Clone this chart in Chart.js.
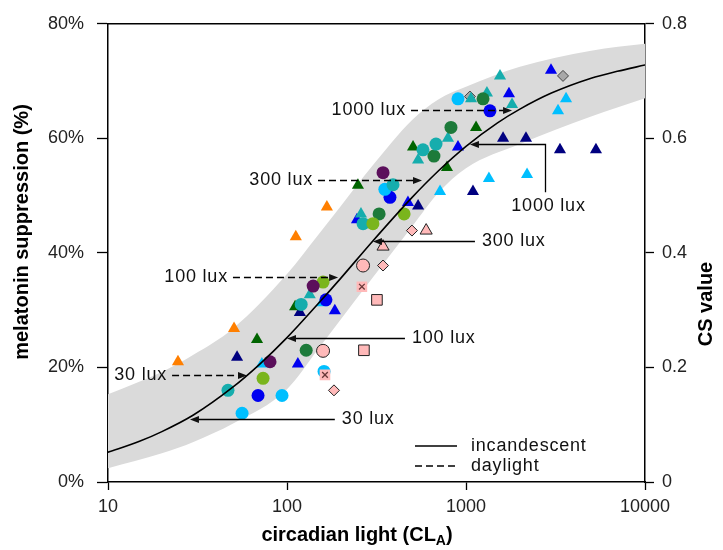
<!DOCTYPE html>
<html>
<head>
<meta charset="utf-8">
<script src="https://cdn.jsdelivr.net/npm/chart.js@4/dist/chart.umd.min.js"></script>
<style>
  html, body { margin: 0; padding: 0; background: #ffffff; }
  #wrap { width: 723px; height: 550px; }
</style>
</head>
<body>
<div id="wrap"><canvas id="c" width="723" height="550"></canvas></div>
<script>
// ---- axes ----
const xTicks = [10, 100, 1000, 10000];
const pctTicks = [0, 20, 40, 60, 80];
const csTicks = [0, 0.2, 0.4, 0.6, 0.8];

// ---- response curve (CL_A vs % suppression) ----
const curveCL  = [10, 15, 20, 30, 50, 70, 100, 150, 200, 300, 500, 700, 1000, 1500, 2000, 3000, 5000, 7000, 10000];
const curvePct = [5.2, 7.1, 8.8, 11.7, 16.6, 20.5, 25.2, 31.2, 35.6, 42.0, 49.7, 54.3, 58.6, 62.7, 65.1, 67.9, 70.5, 71.7, 72.8];

// ---- shaded band around the curve ----
const bandCL    = [10, 20, 30, 50, 100, 150, 200, 300, 500, 700, 1000, 2000, 5000, 10000];
const bandUpper = [15.3, 19.2, 22.2, 26.8, 36.3, 43.2, 48.2, 55.2, 63.2, 66.8, 69.0, 72.5, 75.3, 76.5];
const bandLower = [2.4, 5.0, 7.0, 10.2, 16.2, 23.3, 28.4, 35.6, 44.6, 50.5, 54.8, 59.0, 63.8, 67.0];

// ---- measurements: [CL_A, % suppression] ----
const orangeTriangles    = [[24.6, 21.0], [50.6, 26.8], [112, 42.8], [167, 48.0]];
const darkGreenTriangles = [[68, 24.9], [111, 30.6], [249, 51.8], [506, 58.5], [783, 54.9], [1138, 61.9]];
const navyTriangles      = [[52.6, 21.8], [118, 29.6], [540, 48.2], [1094, 50.7], [1611, 60.0], [2163, 60.0], [3350, 58.0], [5321, 58.0]];
const blueTriangles      = [[115, 20.6], [185, 29.9], [246, 45.8], [474, 48.8], [902, 58.5], [1738, 67.8], [2985, 71.9]];
const lightBlueTriangles = [[72.4, 20.6], [157, 31.3], [716, 50.7], [1343, 53.0], [2193, 53.7], [3266, 64.8], [3622, 66.9]];
const tealTriangles      = [[134, 32.7], [259, 46.8], [540, 56.2], [793, 60.0], [1067, 66.9], [1309, 67.9], [1808, 65.9], [1549, 70.9]];
const blueCircles        = [[68.9, 15.1], [165, 31.8], [376, 49.7], [1361, 64.8]];
const lightBlueCircles   = [[56.1, 12.0], [93.8, 15.1], [161, 19.3], [352, 51.1], [902, 66.9]];
const tealCircles        = [[46.8, 16.0], [120, 31.0], [266, 45.1], [391, 51.9], [575, 58.0], [680, 59.0]];
const darkGreenCircles   = [[128, 23.0], [327, 46.8], [662, 56.9], [824, 61.9], [1245, 66.9]];
const purpleCircles      = [[80.4, 21.0], [140, 34.2], [344, 54.0]];
const limeCircles        = [[73.5, 18.1], [159, 34.9], [302, 45.1], [451, 46.8]];
const pinkCircles        = [[159, 22.9], [266, 37.8]];
const pinkSquares        = [[318, 31.8], [269, 23.0]];
const pinkDiamonds       = [[344, 37.8], [183, 16.0], [499, 43.9]];
const pinkTriangles      = [[344, 41.1], [599, 43.9]];
const pinkCrossSquares   = [[262, 34.1], [163, 18.7]];
const grayDiamonds       = [[3483, 70.9], [1052, 67.3]];

// ---- lux reference arrows ----
// daylight (dashed, pointing right): label, line start CL, tip CL, level %
const daylightArrows = [
  { label: '30 lux',   from: 22.8, to: 59.8,  y: 18.7 },
  { label: '100 lux',  from: 49.9, to: 193,   y: 35.8 },
  { label: '300 lux',  from: 149,  to: 568,   y: 52.8 },
  { label: '1000 lux', from: 493,  to: 1808,  y: 65.0 }
];
// incandescent (solid, pointing left): label, tip CL, line end CL, level %
const incandescentArrows = [
  { label: '30 lux',  tip: 28.7, to: 185,  y: 11.0 },
  { label: '100 lux', tip: 100,  to: 456,  y: 25.1 },
  { label: '300 lux', tip: 302,  to: 1122, y: 42.0 }
];
// the 1000 lux incandescent arrow bends down to its label
const incandescent1000 = { label: '1000 lux', tip: 1052, corner: 2761, y: 59.0, yLabel: 50.6 };

const pts = arr => arr.map(p => ({ x: p[0], y: p[1] }));
const line = (xs, ys) => xs.map((x, i) => ({ x, y: ys[i] }));

const PINK = '#ffb9b9';
function marker(data, style, color, radius, order, extra) {
  return Object.assign({
    data: pts(data), pointStyle: style, pointRadius: radius, pointHoverRadius: radius,
    backgroundColor: color, borderColor: color, borderWidth: 0, showLine: false, order
  }, extra || {});
}
const outlined = { borderColor: '#222', borderWidth: 1 };

const datasets = [
  { data: line(curveCL, curvePct), showLine: true, borderColor: '#000', borderWidth: 1.6,
    pointRadius: 0, tension: 0.4, cubicInterpolationMode: 'monotone', fill: false, order: 0 },
  marker(pinkCrossSquares, 'rect', PINK, 7.5, 1, { borderColor: PINK, borderWidth: 0 }),
  marker(pinkCrossSquares, 'crossRot', '#6a3838', 4, 0.5, { borderColor: '#6a3838', borderWidth: 1.3 }),
  marker(purpleCircles, 'circle', '#5b0f5b', 6.5, 2),
  marker(limeCircles, 'circle', '#7ab51d', 6.5, 3),
  marker(tealCircles, 'circle', '#16adad', 6.5, 4),
  marker(darkGreenCircles, 'circle', '#1d7a3a', 6.5, 5),
  marker(lightBlueCircles, 'circle', '#00bfff', 6.5, 6),
  marker(blueCircles, 'circle', '#0000f0', 6.5, 7),
  marker(tealTriangles, 'triangle', '#16adad', 7, 8),
  marker(lightBlueTriangles, 'triangle', '#00bfff', 7, 9),
  marker(blueTriangles, 'triangle', '#0000f0', 7, 10),
  marker(darkGreenTriangles, 'triangle', '#006400', 7, 11),
  marker(navyTriangles, 'triangle', '#000080', 7, 12),
  marker(orangeTriangles, 'triangle', '#ff7f00', 7, 13),
  marker(pinkCircles, 'circle', PINK, 6.5, 14, outlined),
  marker(pinkSquares, 'rect', PINK, 7.5, 15, outlined),
  marker(pinkDiamonds, 'rectRot', PINK, 5.5, 16, outlined),
  marker(pinkTriangles, 'triangle', PINK, 7, 17, outlined),
  marker(grayDiamonds, 'rectRot', '#a8a8a8', 5.5, 18, { borderColor: '#444', borderWidth: 1 }),
  { data: line(bandCL, bandUpper), showLine: true, borderWidth: 0, borderColor: 'rgba(0,0,0,0)',
    pointRadius: 0, tension: 0.4, cubicInterpolationMode: 'monotone', fill: false, order: 50 },
  { data: line(bandCL, bandLower), showLine: true, borderWidth: 0, borderColor: 'rgba(0,0,0,0)',
    pointRadius: 0, tension: 0.4, cubicInterpolationMode: 'monotone', fill: '-1',
    backgroundColor: '#dadada', order: 51 }
];

const FONT = 'Liberation Sans, Arial, sans-serif';
const tickFont = { family: FONT, size: 18 };

function arrowHead(ctx, x, y, dir) {
  ctx.beginPath();
  ctx.moveTo(x, y);
  ctx.lineTo(x - dir * 9, y - 3.5);
  ctx.lineTo(x - dir * 9, y + 3.5);
  ctx.closePath();
  ctx.fill();
}

const decorations = {
  id: 'decorations',
  afterDatasetsDraw(chart) {
    const { ctx, chartArea: a, scales } = chart;
    const X = v => scales.x.getPixelForValue(v);
    const Y = v => scales.y.getPixelForValue(v);
    ctx.save();
    // top frame line
    ctx.strokeStyle = '#000';
    ctx.lineWidth = 1.5;
    ctx.beginPath(); ctx.moveTo(a.left, a.top); ctx.lineTo(a.right, a.top); ctx.stroke();

    ctx.fillStyle = '#111';
    ctx.strokeStyle = '#000';
    ctx.lineWidth = 1.3;
    ctx.font = '18px ' + FONT;
    ctx.letterSpacing = '0.8px';
    ctx.textBaseline = 'middle';

    // daylight arrows
    daylightArrows.forEach(d => {
      const y = Math.round(Y(d.y)) + 0.5, x0 = X(d.from), x1 = X(d.to);
      ctx.setLineDash([7, 4]);
      ctx.beginPath(); ctx.moveTo(x0, y); ctx.lineTo(x1 - 6, y); ctx.stroke();
      ctx.setLineDash([]);
      arrowHead(ctx, x1, y, 1);
      ctx.textAlign = 'right';
      ctx.fillText(d.label, x0 - 5, y);
    });
    // incandescent arrows
    incandescentArrows.forEach(d => {
      const y = Math.round(Y(d.y)) + 0.5, x0 = X(d.tip), x1 = X(d.to);
      ctx.beginPath(); ctx.moveTo(x0 + 6, y); ctx.lineTo(x1, y); ctx.stroke();
      arrowHead(ctx, x0, y, -1);
      ctx.textAlign = 'left';
      ctx.fillText(d.label, x1 + 7, y);
    });
    {
      const d = incandescent1000;
      const y = Math.round(Y(d.y)) + 0.5, x0 = X(d.tip), xc = Math.round(X(d.corner)) + 0.5, y2 = Y(d.yLabel);
      ctx.beginPath(); ctx.moveTo(x0 + 6, y); ctx.lineTo(xc, y); ctx.lineTo(xc, y2); ctx.stroke();
      arrowHead(ctx, x0, y, -1);
      ctx.textAlign = 'center';
      ctx.fillText(d.label, xc + 3, y2 + 14);
    }

    // legend
    const lx = 415, ly = 446;
    ctx.beginPath(); ctx.moveTo(lx, ly); ctx.lineTo(lx + 42, ly); ctx.stroke();
    ctx.setLineDash([7, 4]);
    ctx.beginPath(); ctx.moveTo(lx, ly + 20); ctx.lineTo(lx + 42, ly + 20); ctx.stroke();
    ctx.setLineDash([]);
    ctx.textAlign = 'left';
    ctx.fillText('incandescent', lx + 56, ly);
    ctx.fillText('daylight', lx + 56, ly + 20);

    // axis titles
    ctx.letterSpacing = '0px';
    ctx.fillStyle = '#000';
    ctx.font = 'bold 20px ' + FONT;
    ctx.textAlign = 'center';
    ctx.save();
    ctx.translate(22, 232); ctx.rotate(-Math.PI / 2);
    ctx.fillText('melatonin suppression (%)', 0, 0);
    ctx.restore();
    ctx.save();
    ctx.translate(706, 304); ctx.rotate(-Math.PI / 2);
    ctx.fillText('CS value', 0, 0);
    ctx.restore();

    // x title with subscript
    const main = 'circadian light (CL', sub = 'A', tail = ')';
    ctx.font = 'bold 20px ' + FONT;
    const w1 = ctx.measureText(main).width, w3 = ctx.measureText(tail).width;
    ctx.font = 'bold 14px ' + FONT;
    const w2 = ctx.measureText(sub).width;
    let tx = 357 - (w1 + w2 + w3) / 2;
    const ty = 535;
    ctx.textAlign = 'left';
    ctx.font = 'bold 20px ' + FONT; ctx.fillText(main, tx, ty); tx += w1;
    ctx.font = 'bold 14px ' + FONT; ctx.fillText(sub, tx, ty + 6); tx += w2;
    ctx.font = 'bold 20px ' + FONT; ctx.fillText(tail, tx, ty);
    ctx.restore();
  }
};

new Chart(document.getElementById('c'), {
  type: 'scatter',
  data: { datasets },
  options: {
    responsive: false, animation: false, devicePixelRatio: 1,
    layout: { padding: { top: 17, left: 0, right: 0, bottom: 0 } },
    plugins: { legend: { display: false }, tooltip: { enabled: false } },
    elements: { line: { borderCapStyle: 'round' } },
    scales: {
      x: {
        type: 'logarithmic', min: 10, max: 10000, position: 'bottom',
        afterBuildTicks: s => { s.ticks = xTicks.map(v => ({ value: v })); },
        afterFit: s => { s.height = 68; },
        ticks: { callback: v => String(v), font: tickFont, color: '#222', padding: 6, maxRotation: 0, autoSkip: false },
        grid: { drawOnChartArea: false, tickLength: 8, tickColor: '#000', tickWidth: 1.3 },
        border: { color: '#000', width: 1.5 }
      },
      y: {
        type: 'linear', min: 0, max: 80, position: 'left',
        afterBuildTicks: s => { s.ticks = pctTicks.map(v => ({ value: v })); },
        afterFit: s => { s.width = 108; },
        ticks: { callback: v => v + '%', font: tickFont, color: '#222', padding: 13 },
        grid: { drawOnChartArea: false, tickLength: 11, tickColor: '#000', tickWidth: 1.3 },
        border: { color: '#000', width: 1.5 }
      },
      y2: {
        type: 'linear', min: 0, max: 0.8, position: 'right',
        afterBuildTicks: s => { s.ticks = csTicks.map(v => ({ value: v })); },
        afterFit: s => { s.width = 78; },
        ticks: { callback: v => String(v), font: tickFont, color: '#222', padding: 8 },
        grid: { drawOnChartArea: false, tickLength: 9, tickColor: '#000', tickWidth: 1.3 },
        border: { color: '#000', width: 1.5 }
      }
    }
  },
  plugins: [decorations]
});
</script>
</body>
</html>
